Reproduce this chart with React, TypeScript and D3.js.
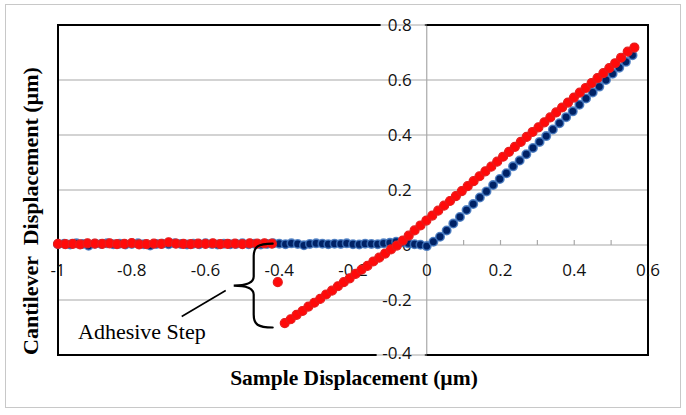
import React from "react";
import * as d3 from "d3";

// ---- data ----
const approachFlatX = [
  -1.0, -0.983, -0.967, -0.95, -0.933, -0.917, -0.9, -0.883, -0.867, -0.85,
  -0.833, -0.817, -0.8, -0.783, -0.767, -0.75, -0.733, -0.717, -0.7, -0.683,
  -0.667, -0.65, -0.633, -0.617, -0.6, -0.583, -0.567, -0.55, -0.533, -0.517,
  -0.5, -0.483, -0.467, -0.45, -0.433, -0.417, -0.4, -0.383, -0.367, -0.35,
  -0.333, -0.317, -0.3, -0.283, -0.267, -0.25, -0.233, -0.217, -0.2, -0.183,
  -0.167, -0.15, -0.133, -0.117, -0.1, -0.083, -0.067, -0.05, -0.033, -0.017, 0.0,
];
const approachFlatY = [
  0.003, 0.005, 0.002, 0.006, 0.004, -0.003, 0.005, 0.004, 0.006, 0.003,
  0.005, 0.002, 0.004, 0.006, 0.003, -0.002, 0.004, 0.005, 0.003, 0.006,
  0.004, 0.002, 0.005, 0.003, 0.006, 0.004, 0.002, 0.005, 0.003, 0.004,
  0.006, 0.003, 0.005, 0.002, 0.004, 0.006, 0.005, 0.003, 0.006, 0.004,
  -0.001, 0.004, 0.006, 0.005, 0.003, 0.005, 0.004, 0.006, 0.003, 0.002,
  0.005, 0.004, 0.003, 0.006, 0.008, 0.012, 0.01, 0.006, 0.003, 0.001, -0.004,
];
const approachSlopeX = [
  0.018, 0.036, 0.054, 0.072, 0.09, 0.108, 0.126, 0.144, 0.162, 0.18,
  0.198, 0.216, 0.234, 0.252, 0.27, 0.288, 0.306, 0.324, 0.342, 0.36,
  0.378, 0.396, 0.414, 0.432, 0.45, 0.468, 0.486, 0.504, 0.522, 0.54, 0.558,
];
const approachSlopeY = [
  0.012, 0.03, 0.053, 0.078, 0.102, 0.127, 0.149, 0.173, 0.195, 0.218,
  0.24, 0.261, 0.286, 0.307, 0.33, 0.353, 0.375, 0.396, 0.42, 0.443,
  0.465, 0.486, 0.51, 0.533, 0.555, 0.576, 0.6, 0.623, 0.645, 0.666, 0.69,
];

const retractFlatX = [
  -1.0, -0.98, -0.96, -0.94, -0.92, -0.9, -0.88, -0.86, -0.84, -0.82,
  -0.8, -0.78, -0.76, -0.74, -0.72, -0.7, -0.68, -0.66, -0.64, -0.62,
  -0.6, -0.58, -0.56, -0.54, -0.52, -0.5, -0.48, -0.46, -0.44, -0.42,
];
const retractFlatY = [
  0.004, 0.003, 0.004, 0.002, 0.006, 0.005, 0.004, 0.006, 0.003, 0.004,
  0.007, 0.002, 0.003, 0.005, 0.004, 0.01, 0.005, 0.004, 0.003, 0.005,
  0.004, 0.006, 0.003, 0.004, 0.005, 0.003, 0.006, 0.005, 0.006, 0.005,
];
const retractStepX = [-0.404];
const retractStepY = [-0.135];
const retractSlopeX = [
  -0.385, -0.369, -0.353, -0.337, -0.321, -0.305, -0.289, -0.273, -0.257, -0.241,
  -0.225, -0.209, -0.193, -0.177, -0.161, -0.145, -0.129, -0.113, -0.097, -0.081,
  -0.065, -0.049, -0.033, -0.017, -0.001, 0.015, 0.031, 0.047, 0.063, 0.079,
  0.095, 0.111, 0.127, 0.143, 0.159, 0.175, 0.191, 0.207, 0.223, 0.239,
  0.255, 0.271, 0.287, 0.303, 0.319, 0.335, 0.351, 0.367, 0.383, 0.399,
  0.415, 0.431, 0.447, 0.463, 0.479, 0.495, 0.511, 0.527, 0.545, 0.563,
];
const retractSlopeY = [
  -0.284, -0.27, -0.254, -0.24, -0.224, -0.21, -0.196, -0.18, -0.166, -0.15,
  -0.135, -0.121, -0.105, -0.09, -0.076, -0.06, -0.046, -0.031, -0.016, -0.002,
  0.016, 0.034, 0.053, 0.071, 0.089, 0.107, 0.125, 0.143, 0.16, 0.178,
  0.196, 0.214, 0.232, 0.25, 0.268, 0.285, 0.303, 0.321, 0.339, 0.357,
  0.375, 0.393, 0.411, 0.428, 0.446, 0.464, 0.482, 0.5, 0.518, 0.536,
  0.554, 0.571, 0.589, 0.607, 0.625, 0.643, 0.661, 0.681, 0.703, 0.718,
];

const xTickValues = [-1, -0.8, -0.6, -0.4, -0.2, 0, 0.2, 0.4, 0.6];
const xTickLabels = ["-1", "-0.8", "-0.6", "-0.4", "-0.2", "0", "0.2", "0.4", "0.6"];
const xMinorTicks = [-1, -0.9, -0.8, -0.7, -0.6, -0.5, -0.4, -0.3, -0.2, -0.1, 0, 0.1, 0.2, 0.3, 0.4, 0.5, 0.6];
const yTickValues = [-0.4, -0.2, 0, 0.2, 0.4, 0.6, 0.8];
const yTickLabels = ["-0.4", "-0.2", "0", "0.2", "0.4", "0.6", "0.8"];
const yGridValues = [-0.2, 0.2, 0.4, 0.6];

const xTitle = "Sample Displacement (\u00b5m)";
const yTitle = "Cantilever  Displacement (\u00b5m)";
const annotation = "Adhesive Step";

const zip = (xs: number[], ys: number[]) => xs.map((x, i) => [x, ys[i]] as [number, number]);

export default function App() {
  const W = 686;
  const H = 415;
  const x = d3.scaleLinear().domain([-1, 0.6]).range([58, 648]);
  const y = d3.scaleLinear().domain([-0.4, 0.8]).range([355, 25]);

  const blue = [...zip(approachFlatX, approachFlatY), ...zip(approachSlopeX, approachSlopeY)];
  const red = [
    ...zip(retractFlatX, retractFlatY),
    ...zip(retractStepX, retractStepY),
    ...zip(retractSlopeX, retractSlopeY),
  ];

  const serif = "'Liberation Serif', 'Times New Roman', serif";
  const sans = "'Open Sans', 'Liberation Sans', sans-serif";
  const gridColor = "#a8a8a8";

  const x0 = x(0);
  const y0 = y(0);

  const bx = x(-0.472);
  const btop = y(0.005);
  const bbot = y(-0.3);
  const bmid = (btop + bbot) / 2;
  const braceW = 20;
  const brace =
    `M${bx + braceW},${btop} C${bx + 5},${btop} ${bx + 1},${btop + 3} ${bx + 1},${btop + 13} ` +
    `L${bx + 1},${bmid - 9} C${bx + 1},${bmid - 3} ${bx - 7},${bmid} ${bx - 19},${bmid} ` +
    `C${bx - 7},${bmid} ${bx + 1},${bmid + 3} ${bx + 1},${bmid + 9} ` +
    `L${bx + 1},${bbot - 13} C${bx + 1},${bbot - 3} ${bx + 5},${bbot} ${bx + braceW},${bbot}`;

  return (
    <svg
      width={W}
      height={H}
      style={{ position: "absolute", left: 0, top: 0, background: "#fff" }}
    >
      <rect x={0} y={0} width={W} height={H} fill="#fff" />
      <rect x={5.5} y={4.5} width={675} height={403} fill="none" stroke="#c8c8c8" strokeWidth={1} />

      {yGridValues.map((v) => (
        <line key={"g" + v} x1={x(-1)} x2={x(0.6)} y1={y(v)} y2={y(v)} stroke={gridColor} strokeWidth={1.2} />
      ))}
      <line x1={x0} x2={x0} y1={y(0.8)} y2={y(-0.4)} stroke={gridColor} strokeWidth={1.2} />
      <line x1={x(-1)} x2={x(0.6)} y1={y0} y2={y0} stroke={gridColor} strokeWidth={1.2} />
      {xMinorTicks.map((v) => (
        <line key={"t" + v} x1={x(v)} x2={x(v)} y1={y0} y2={y0 - 5} stroke={gridColor} strokeWidth={1.2} />
      ))}

      <rect
        x={x(-1)}
        y={y(0.8)}
        width={x(0.6) - x(-1)}
        height={y(-0.4) - y(0.8)}
        fill="none"
        stroke="#000"
        strokeWidth={2}
      />
      <rect x={x0 - 46} y={y(0.8) - 3} width={44} height={6} fill="#fff" />
      <line x1={x0 - 46} x2={x0} y1={y(0.8)} y2={y(0.8)} stroke={gridColor} strokeWidth={1.2} />
      <rect x={x0 - 50} y={y(-0.4) - 3} width={48} height={6} fill="#fff" />
      <line x1={x0 - 50} x2={x0} y1={y(-0.4)} y2={y(-0.4)} stroke={gridColor} strokeWidth={1.2} />

      {yTickValues.map((v, i) => (
        <text
          key={"yl" + v}
          x={x0 - 15}
          y={y(v)}
          dy={v === -0.4 ? "0.25em" : "0.33em"}
          textAnchor="end"
          fontFamily={sans}
          fontSize={17}
          fill="#111"
        >
          {yTickLabels[i]}
        </text>
      ))}
      {xTickValues.map((v, i) => (
        <text
          key={"xl" + v}
          x={x(v)}
          y={y0 + 31}
          textAnchor="middle"
          fontFamily={sans}
          fontSize={17}
          fill="#111"
        >
          {xTickLabels[i]}
        </text>
      ))}

      {blue.map(([a, b], i) => (
        <circle
          key={"b" + i}
          cx={x(a)}
          cy={y(b)}
          r={4.2}
          fill="#002266"
          stroke="#3f74bd"
          strokeOpacity={0.85}
          strokeWidth={1.6}
        />
      ))}
      {red.map(([a, b], i) => (
        <circle
          key={"r" + i}
          cx={x(a)}
          cy={y(b)}
          r={4.5}
          fill="#ff0a0a"
          stroke="#e51d1d"
          strokeWidth={1.2}
        />
      ))}

      <path d={brace} fill="none" stroke="#000" strokeWidth={2.2} strokeLinecap="round" />
      <line x1={bx - 27} x2={bx - 71} y1={bmid + 5} y2={bmid + 31} stroke="#000" strokeWidth={1.6} />
      <text x={78} y={339} fontFamily={serif} fontSize={22} fill="#000">
        {annotation}
      </text>

      <text
        x={354}
        y={385}
        textAnchor="middle"
        fontFamily={serif}
        fontWeight="bold"
        fontSize={21.5}
        fill="#000"
      >
        {xTitle}
      </text>
      <text
        transform={`translate(38, 211) rotate(-90)`}
        textAnchor="middle"
        fontFamily={serif}
        fontWeight="bold"
        fontSize={22}
        fill="#000"
        style={{ whiteSpace: "pre" }}
      >
        {yTitle}
      </text>
    </svg>
  );
}
